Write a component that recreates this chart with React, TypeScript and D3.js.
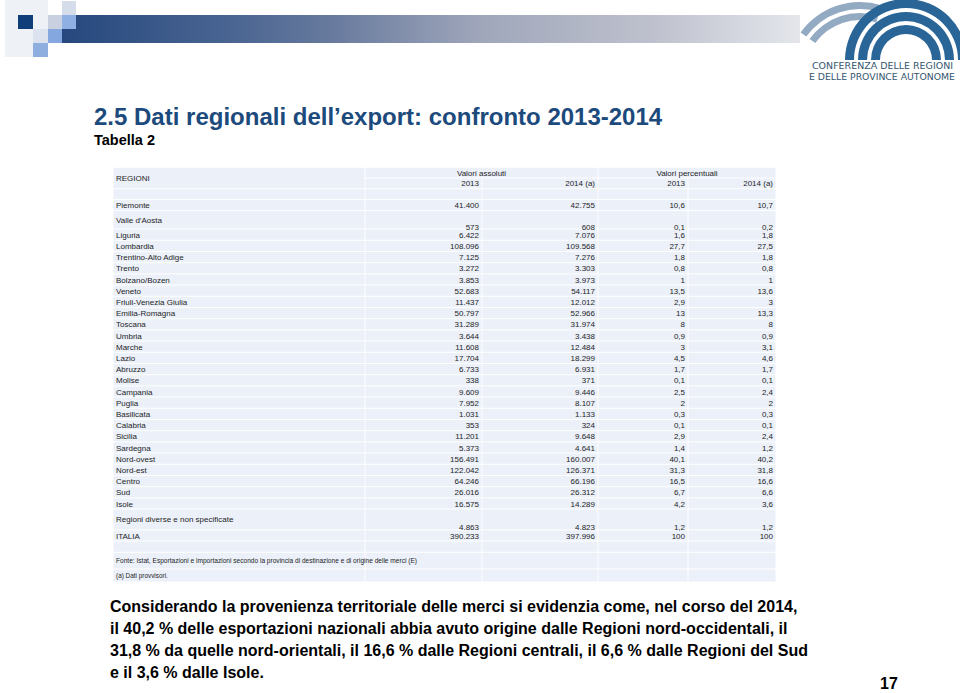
import React from "react";
import * as d3 from "d3";

// ---------- DATA ----------
const regions = [
  "Piemonte", "Valle d'Aosta", "Liguria", "Lombardia", "Trentino-Alto Adige", "Trento",
  "Bolzano/Bozen", "Veneto", "Friuli-Venezia Giulia", "Emilia-Romagna", "Toscana", "Umbria",
  "Marche", "Lazio", "Abruzzo", "Molise", "Campania", "Puglia", "Basilicata", "Calabria",
  "Sicilia", "Sardegna", "Nord-ovest", "Nord-est", "Centro", "Sud", "Isole",
  "Regioni diverse e non specificate", "ITALIA",
];
const abs2013 = [41400, 573, 6422, 108096, 7125, 3272, 3853, 52683, 11437, 50797, 31289, 3644,
  11608, 17704, 6733, 338, 9609, 7952, 1031, 353, 11201, 5373, 156491, 122042, 64246, 26016, 16575, 4863, 390233];
const abs2014 = [42755, 608, 7076, 109568, 7276, 3303, 3973, 54117, 12012, 52966, 31974, 3438,
  12484, 18299, 6931, 371, 9446, 8107, 1133, 324, 9648, 4641, 160007, 126371, 66196, 26312, 14289, 4823, 397996];
const pct2013 = [10.6, 0.1, 1.6, 27.7, 1.8, 0.8, 1, 13.5, 2.9, 13, 8, 0.9, 3, 4.5, 1.7, 0.1, 2.5, 2,
  0.3, 0.1, 2.9, 1.4, 40.1, 31.3, 16.5, 6.7, 4.2, 1.2, 100];
const pct2014 = [10.7, 0.2, 1.8, 27.5, 1.8, 0.8, 1, 13.6, 3, 13.3, 8, 0.9, 3.1, 4.6, 1.7, 0.1, 2.4, 2,
  0.3, 0.1, 2.4, 1.2, 40.2, 31.8, 16.6, 6.6, 3.6, 1.2, 100];
const columnKeys = ["label", "a2013", "a2014", "p2013", "p2014"];
const groupHeaders = ["Valori assoluti", "Valori percentuali"];
const yearHeaders = ["2013", "2014 (a)", "2013", "2014 (a)"];
const titleText = "2.5 Dati regionali dell\u2019export: confronto 2013-2014";
const subtitleText = "Tabella 2";
const sourceText = "Fonte: Istat, Esportazioni e importazioni secondo la provincia di destinazione e di origine delle merci (E)";
const noteText = "(a) Dati provvisori.";
const paragraphLines = [
  "Considerando la provenienza territoriale delle merci si evidenzia come, nel corso del 2014,",
  "il 40,2 % delle esportazioni nazionali abbia avuto origine dalle Regioni nord-occidentali, il",
  "31,8 % da quelle nord-orientali, il 16,6 % dalle Regioni centrali, il 6,6 % dalle Regioni del Sud",
  "e il 3,6 % dalle Isole.",
];
const logoLines = ["CONFERENZA DELLE REGIONI", "E DELLE PROVINCE AUTONOME"];
const pageNumber = "17";

// ---------- STYLE / LAYOUT ----------
const FONT = "'Liberation Sans', Arial, Helvetica, sans-serif";
const CELL = "#ebf0f9";
const TEXT = "#1e1e1e";
const colEdges = [113, 365, 482, 598, 688, 776];

const loc = d3.formatLocale({ decimal: ",", thousands: ".", grouping: [3], currency: ["", "\u20ac"] });
const fmtAbs = loc.format(",d");
const fmtPct = loc.format(",");

const colX = d3.scaleOrdinal<string, number>().domain(columnKeys).range(colEdges.slice(0, 5));
const colW = d3.scaleOrdinal<string, number>().domain(columnKeys).range(colEdges.slice(1).map((e, i) => e - colEdges[i]));

export default function App() {
  const tableTop = 167.3;
  const hh = 10.7;
  const rowH = 11.2;

  let y = tableTop + hh * 3;
  const rows = regions.map((name, i) => {
    const h = name === "Valle d'Aosta" ? 18.5 : name.startsWith("Regioni diverse") ? 20.8 : rowH;
    const tall = h > rowH;
    const r = {
      name, i, top: y, h,
      labelY: tall ? y + 9.5 : y + h / 2,
      valY: tall ? y + h - 2.5 : y + h / 2,
    };
    y += h;
    return r;
  });
  const blankTop = y;
  const fonteTop = blankTop + rowH;
  const fonteH = 16.7;
  const noteTop = fonteTop + fonteH;
  const noteH = 13;

  const valueCols = [
    { key: "a2013", vals: abs2013, f: fmtAbs },
    { key: "a2014", vals: abs2014, f: fmtAbs },
    { key: "p2013", vals: pct2013, f: fmtPct },
    { key: "p2014", vals: pct2014, f: fmtPct },
  ];

  const cellRect = (x: number, yy: number, w: number, h: number, k: string) => (
    <rect key={k} x={x + 0.5} y={yy + 0.5} width={w - 1} height={h - 1} fill={CELL} />
  );

  const cells: JSX.Element[] = [];
  cells.push(cellRect(colEdges[0], tableTop, colEdges[1] - colEdges[0], hh * 2, "hreg"));
  cells.push(cellRect(colEdges[1], tableTop, colEdges[3] - colEdges[1], hh, "hg1"));
  cells.push(cellRect(colEdges[3], tableTop, colEdges[5] - colEdges[3], hh, "hg2"));
  columnKeys.slice(1).forEach((k) => cells.push(cellRect(colX(k), tableTop + hh, colW(k), hh, "hy" + k)));
  columnKeys.forEach((k) => cells.push(cellRect(colX(k), tableTop + hh * 2, colW(k), hh, "hb" + k)));
  rows.forEach((r) => columnKeys.forEach((k) => cells.push(cellRect(colX(k), r.top, colW(k), r.h, `r${r.i}${k}`))));
  [[blankTop, rowH], [fonteTop, fonteH], [noteTop, noteH]].forEach(([t, h], j) =>
    columnKeys.forEach((k) => cells.push(cellRect(colX(k), t, colW(k), h, `f${j}${k}`)))
  );

  const arc = d3.arc<any>();
  const logoCx = 906, logoCy = 60;
  const darkBands = [[52, 61], [39, 48], [26, 35]];
  const lightBands = [[66, 73], [55, 62]];

  const squares = [
    { x: 5, y: 0, w: 43, h: 57, c: "#eef1f6" },
    { x: 18, y: 15, w: 15, h: 14, c: "#0f3e78" },
    { x: 33, y: 29, w: 15, h: 14, c: "#dde3ee" },
    { x: 48, y: 15, w: 14, h: 14, c: "#c9d1e1" },
    { x: 62, y: 1, w: 14, h: 14, c: "#d6ddea" },
    { x: 48, y: 29, w: 14, h: 14, c: "#84a7df" },
    { x: 33, y: 43, w: 15, h: 14, c: "#8eaee0" },
  ];

  return (
    <svg width={960} height={693} style={{ position: "absolute", left: 0, top: 0, background: "#fff" }} fontFamily={FONT}>
      <defs>
        <linearGradient id="bar" x1="62" x2="800" y1="0" y2="0" gradientUnits="userSpaceOnUse">
          <stop offset="0" stopColor="#26487e" />
          <stop offset="0.23" stopColor="#4a6592" />
          <stop offset="0.36" stopColor="#66799d" />
          <stop offset="0.57" stopColor="#a0a7bb" />
          <stop offset="0.8" stopColor="#bec1cd" />
          <stop offset="1" stopColor="#e4e6ec" />
        </linearGradient>
      </defs>
      <rect x={0} y={0} width={960} height={693} fill="#fff" />

      {squares.slice(0, 1).map((s, i) => <rect key={"s" + i} x={s.x} y={s.y} width={s.w} height={s.h} fill={s.c} />)}
      <rect x={62} y={15} width={738} height={28} fill="url(#bar)" />
      {squares.slice(1).map((s, i) => <rect key={"q" + i} x={s.x} y={s.y} width={s.w} height={s.h} fill={s.c} />)}
      <rect x={62} y={15} width={14} height={14} fill="#8fb0e3" />

      <g transform={`translate(860,75)`}>
        {lightBands.map(([ri, ro], i) => (
          <path key={"l" + i} d={arc({ innerRadius: ri, outerRadius: ro, startAngle: -0.95, endAngle: 0.3 }) || ""} fill="#93abc2" />
        ))}
      </g>
      <g transform={`translate(${logoCx},${logoCy})`}>
        {darkBands.map(([ri, ro], i) => (
          <path key={"d" + i} d={arc({ innerRadius: ri, outerRadius: ro, startAngle: -Math.PI / 2, endAngle: Math.PI / 2 }) || ""} fill="#2a6598" />
        ))}
      </g>
      {logoLines.map((t, i) => (
        <text key={t} x={i === 0 ? 812 : 809} y={i === 0 ? 69 : 79.5} fontSize={8.6} fill="#33566f"
          fontFamily="'DejaVu Sans', sans-serif" textLength={i === 0 ? 141 : 146} lengthAdjust="spacingAndGlyphs">{t}</text>
      ))}

      <text x={94} y={124.5} fontSize={24} fontWeight="bold" fill="#1c4a7c">{titleText}</text>
      <text x={94} y={145} fontSize={14.5} fontWeight="bold" fill="#000">{subtitleText}</text>

      <g>{cells}</g>
      <g fontSize={8} fill={TEXT}>
        <text x={116} y={tableTop + hh + 3}>REGIONI</text>
        {groupHeaders.map((g, i) => (
          <text key={g} x={(colEdges[1 + i * 2] + colEdges[3 + i * 2]) / 2} y={tableTop + hh / 2 + 3} textAnchor="middle">{g}</text>
        ))}
        {yearHeaders.map((t, i) => (
          <text key={"y" + i} x={colX(columnKeys[i + 1]) + colW(columnKeys[i + 1]) - 3} y={tableTop + hh * 1.5 + 3} textAnchor="end">{t}</text>
        ))}
        {rows.map((r) => (
          <g key={r.name}>
            <text x={116} y={r.labelY + 3}>{r.name}</text>
            {valueCols.map((c) => (
              <text key={c.key} x={colX(c.key) + colW(c.key) - 3} y={r.valY + 3} textAnchor="end">{c.f(c.vals[r.i])}</text>
            ))}
          </g>
        ))}
        <text x={116} y={fonteTop + fonteH / 2 + 2.2} fontSize={6.4} textLength={301} lengthAdjust="spacingAndGlyphs">{sourceText}</text>
        <text x={116} y={noteTop + noteH / 2 + 2.2} fontSize={6.4}>{noteText}</text>
      </g>

      <g fontSize={16} fontWeight="bold" fill="#000">
        {paragraphLines.map((l, i) => (
          <text key={i} x={110} y={612 + i * 22}>{l}</text>
        ))}
        <text x={880} y={689}>{pageNumber}</text>
      </g>
    </svg>
  );
}
